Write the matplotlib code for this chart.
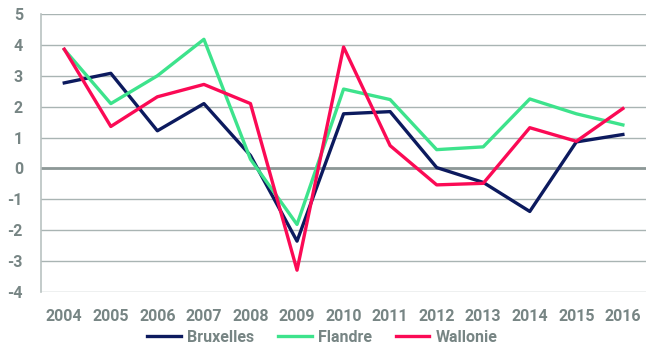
import matplotlib
matplotlib.use("Agg")
import matplotlib.pyplot as plt

annees = ["2004", "2005", "2006", "2007", "2008", "2009", "2010",
          "2011", "2012", "2013", "2014", "2015", "2016"]
bruxelles = [2.77, 3.08, 1.22, 2.1, 0.42, -2.35, 1.77, 1.84, 0.03, -0.45, -1.39, 0.86, 1.1]
flandre = [3.85, 2.1, 3.0, 4.18, 0.3, -1.81, 2.57, 2.23, 0.61, 0.7, 2.25, 1.77, 1.41]
wallonie = [3.86, 1.36, 2.32, 2.72, 2.1, -3.29, 3.93, 0.74, -0.53, -0.48, 1.32, 0.88, 1.94]

gris = "#778584"
plt.rcParams['font.family'] = ['Roboto', 'DejaVu Sans']
plt.rcParams['axes.unicode_minus'] = False

fig = plt.figure(figsize=(6.58, 3.58), dpi=100)
ax = fig.add_axes([0.0623, 0.184, 0.9197, 0.777])

x = range(len(annees))
ax.plot(x, bruxelles, color="#0c1a5e", linewidth=2.4, label="Bruxelles")
ax.plot(x, flandre, color="#3de38c", linewidth=2.4, label="Flandre")
ax.plot(x, wallonie, color="#fb0a55", linewidth=2.4, label="Wallonie")

ax.set_xlim(-0.5, 12.5)
ax.set_ylim(-4, 5)
ax.set_yticks(range(-4, 6))
ax.set_xticks(list(x))
ax.set_xticklabels(annees)
ax.yaxis.grid(True, color="#a9b4b3", linewidth=1.0)
ax.set_axisbelow(True)
ax.axhline(0, color="#8d9897", linewidth=2.0, zorder=1)

for s in ["top", "right", "bottom"]:
    ax.spines[s].set_visible(False)
ax.spines["left"].set_color("#b9c2c1")
ax.spines["left"].set_linewidth(1.2)
ax.tick_params(length=0, labelcolor=gris, labelsize=11.5)
ax.tick_params(axis="x", pad=12)
ax.tick_params(axis="y", pad=13)
for t in ax.get_xticklabels() + ax.get_yticklabels():
    t.set_fontweight("bold")

ax.legend(loc="upper center", bbox_to_anchor=(0.465, -0.135), ncol=3, frameon=False,
          prop={"size": 11.5, "weight": "bold"}, labelcolor=gris,
          handlelength=2.1, columnspacing=1.5, handletextpad=0.4,
          borderpad=0, borderaxespad=0)

fig.savefig("out.png", dpi=100)
